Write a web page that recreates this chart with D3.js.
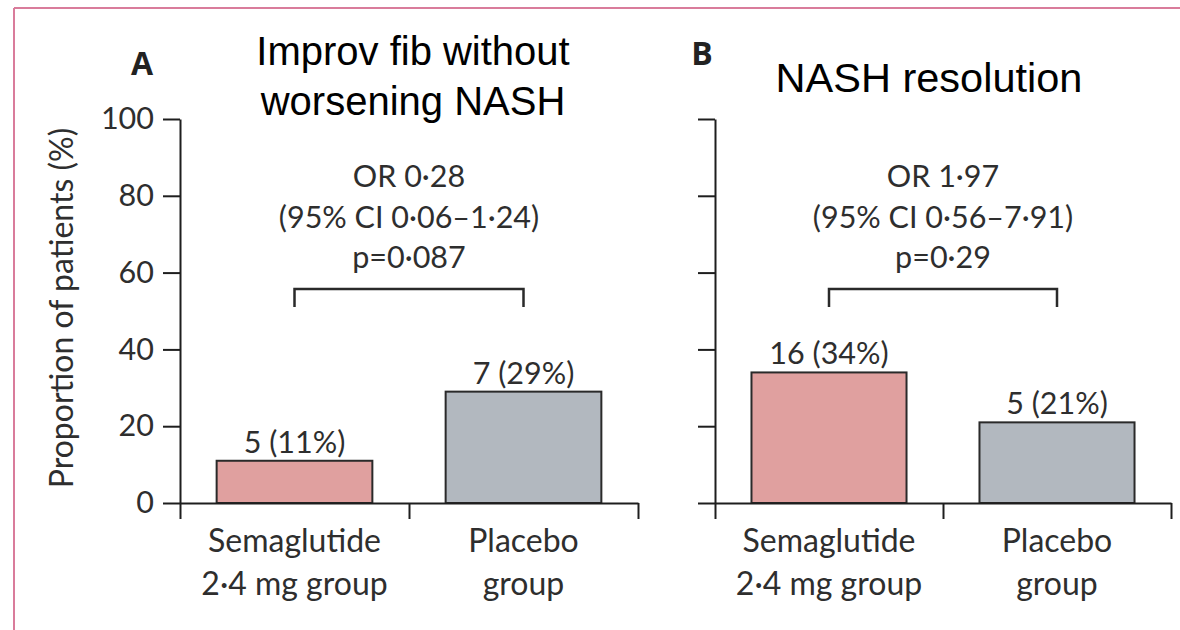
<!DOCTYPE html>
<html><head><meta charset="utf-8">
<script src="https://cdn.jsdelivr.net/npm/d3@7"></script>
<style>
html,body{margin:0;padding:0;background:#fff;}
svg{display:block;}
</style></head>
<body>
<svg id="chart" width="1180" height="630"></svg>
<script>
// ---- data ----
const panelLetters = ["A", "B"];
const panelTitles = [["Improv fib without", "worsening NASH"], ["NASH resolution"]];
const categories = [["Semaglutide", "2·4 mg group"], ["Placebo", "group"]];
const percentA = [11, 29];
const countsA = [5, 7];
const percentB = [34, 21];
const countsB = [16, 5];
const yTicks = [0, 20, 40, 60, 80, 100];
const statsA = ["OR 0·28", "(95% CI 0·06–1·24)", "p=0·087"];
const statsB = ["OR 1·97", "(95% CI 0·56–7·91)", "p=0·29"];
const yTitle = "Proportion of patients (%)";
const barColors = ["#e0a09f", "#b2b8bf"];

// ---- layout ----
const svg = d3.select("#chart");
const FONT = "Lato, 'Open Sans', sans-serif";
const TXT = "#2e2e2e";

// pink frame
svg.append("line").attr("x1", 14).attr("x2", 1180).attr("y1", 8).attr("y2", 8)
  .attr("stroke", "#d97c9b").attr("stroke-width", 2);
svg.append("line").attr("x1", 14).attr("x2", 14).attr("y1", 8).attr("y2", 630)
  .attr("stroke", "#d97c9b").attr("stroke-width", 2);

const y = d3.scaleLinear().domain([0, 100]).range([503, 119]);

const panels = [
  {x0: 180, x1: 638, pct: percentA, cnt: countsA, stats: statsA, labels: true,
   letter: {x: 142, y: 75}, title: {x: 413, y: [65, 115]}, tsize: 40},
  {x0: 715, x1: 1171, pct: percentB, cnt: countsB, stats: statsB, labels: false,
   letter: {x: 702, y: 65}, title: {x: 929, y: [92]}, tsize: 41.5}
];

panels.forEach((p, i) => {
  const g = svg.append("g");
  const xb = d3.scaleBand().domain(categories.map(c => c[0])).range([p.x0, p.x1]).padding(0);
  const xEdge = d3.scaleLinear().domain([0, 2]).range([p.x0, p.x1]);
  const cx = k => xb(categories[k][0]) + xb.bandwidth() / 2;
  const bw = xb.bandwidth() * 0.68;

  // bars
  g.selectAll("rect.bar").data(p.pct).join("rect")
    .attr("class", "bar")
    .attr("x", (d, k) => cx(k) - bw / 2)
    .attr("width", bw)
    .attr("y", d => y(d))
    .attr("height", d => y(0) - y(d))
    .attr("fill", (d, k) => barColors[k])
    .attr("stroke", "#2a2a2a").attr("stroke-width", 2);

  // bar labels
  g.selectAll("text.val").data(p.pct).join("text")
    .attr("class", "val")
    .attr("x", (d, k) => cx(k))
    .attr("y", d => y(d) - 8)
    .attr("text-anchor", "middle")
    .attr("font-family", FONT).attr("font-size", 30.5).attr("fill", TXT)
    .text((d, k) => `${p.cnt[k]} (${d}%)`);

  // y axis
  const yAxis = d3.axisLeft(y).tickValues(yTicks).tickSize(17).tickSizeOuter(0).tickPadding(9);
  if (!p.labels) yAxis.tickFormat("");
  const ya = g.append("g").attr("transform", `translate(${p.x0},0)`).call(yAxis);
  ya.selectAll("path,line").attr("stroke", "#1e1e1e").attr("stroke-width", 2);
  ya.selectAll("text").attr("font-family", FONT).attr("font-size", 30.5).attr("fill", TXT);

  // x axis (ticks at band edges)
  const xAxis = d3.axisBottom(xEdge).tickValues([0, 1, 2]).tickSize(16).tickSizeOuter(0).tickFormat("");
  const xa = g.append("g").attr("transform", `translate(0,${y(0)})`).call(xAxis);
  xa.selectAll("path,line").attr("stroke", "#1e1e1e").attr("stroke-width", 2);

  // category labels
  categories.forEach((lines, k) => {
    lines.forEach((t, j) => {
      g.append("text").attr("x", cx(k)).attr("y", 552 + j * 43)
        .attr("text-anchor", "middle")
        .attr("font-family", FONT).attr("font-size", 32).attr("fill", TXT)
        .text(t);
    });
  });

  // bracket
  const by = 289, legs = 18;
  g.append("path")
    .attr("d", `M${cx(0)},${by + legs}V${by}H${cx(1)}V${by + legs}`)
    .attr("fill", "none").attr("stroke", "#2a2a2a").attr("stroke-width", 2.5);

  // stats text
  const mid = xEdge(1);
  p.stats.forEach((t, j) => {
    g.append("text").attr("x", mid).attr("y", 187 + j * 40.5)
      .attr("text-anchor", "middle")
      .attr("font-family", FONT).attr("font-size", 30.5).attr("fill", TXT)
      .text(t);
  });

  // panel letter
  g.append("text").attr("x", p.letter.x).attr("y", p.letter.y)
    .attr("text-anchor", "middle")
    .attr("font-family", "'Open Sans', Lato, sans-serif").attr("font-weight", "bold")
    .attr("font-size", 32).attr("fill", "#222")
    .text(panelLetters[i]);

  // panel title
  panelTitles[i].forEach((t, j) => {
    g.append("text").attr("x", p.title.x).attr("y", p.title.y[j])
      .attr("text-anchor", "middle")
      .attr("font-family", "'Liberation Sans', Arial, sans-serif")
      .attr("font-size", p.tsize).attr("fill", "#000")
      .text(t);
  });
});

// y axis title
svg.append("text")
  .attr("transform", "translate(73,308) rotate(-90)")
  .attr("text-anchor", "middle")
  .attr("font-family", FONT).attr("font-size", 32).attr("fill", TXT)
  .text(yTitle);
</script>
</body></html>
